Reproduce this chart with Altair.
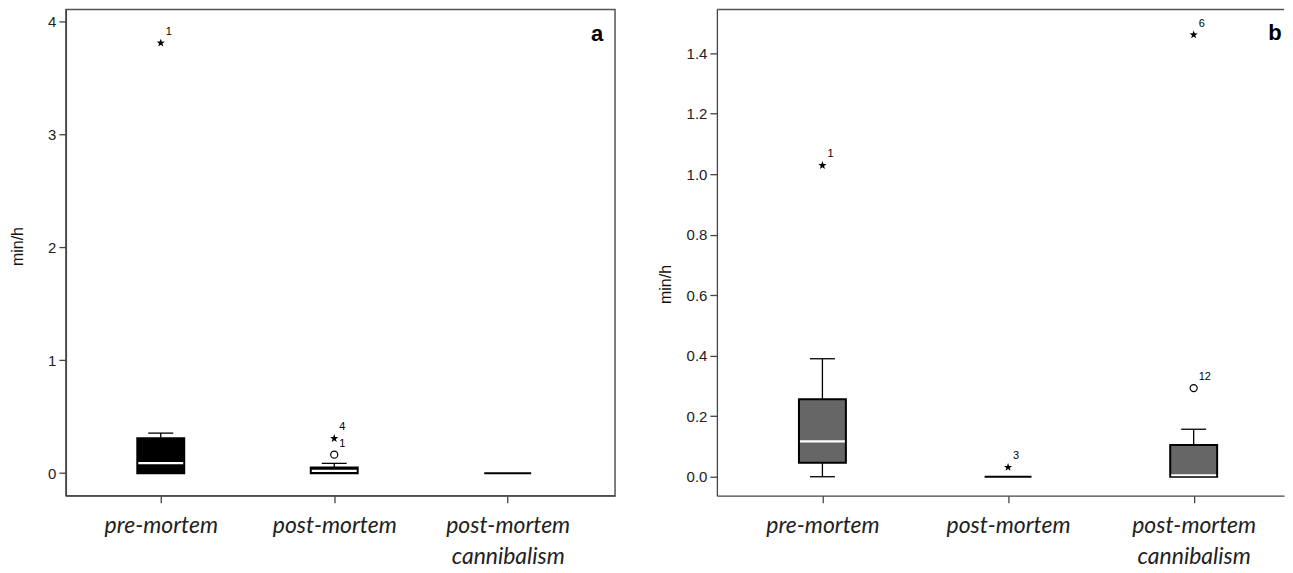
import altair as alt
import pandas as pd

# ---------------- data ----------------
cats = ["pre-mortem", "post-mortem", "post-mortem|cannibalism"]
pos = [1, 2, 3]

# panel a (box statistics, min/h)
a_lo = [0.0, 0.0, 0.0]
a_q1 = [0.0, 0.0, 0.0]
a_med = [0.09, 0.02, 0.0]
a_q3 = [0.31, 0.05, 0.0]
a_hi = [0.355, 0.087, 0.0]

a_out_pos = [1, 2, 2]
a_out_val = [3.81, 0.308, 0.164]
a_out_kind = ["extreme", "extreme", "outlier"]
a_out_lab = ["1", "4", "1"]

# panel b
b_lo = [0.0, 0.0, 0.0]
b_q1 = [0.046, 0.0, 0.0]
b_med = [0.117, 0.0, 0.005]
b_q3 = [0.256, 0.0, 0.105]
b_hi = [0.39, 0.0, 0.157]

b_out_pos = [1, 2, 3, 3]
b_out_val = [1.029, 0.031, 1.461, 0.293]
b_out_kind = ["extreme", "extreme", "extreme", "outlier"]
b_out_lab = ["1", "3", "6", "12"]

a_yticks = [0, 1, 2, 3, 4]
b_yticks = [0.0, 0.2, 0.4, 0.6, 0.8, 1.0, 1.2, 1.4]

STAR = ("M0,-1L0.235,-0.324L0.951,-0.309L0.38,0.124L0.588,0.809L0,0.4"
        "L-0.588,0.809L-0.38,0.124L-0.951,-0.309L-0.235,-0.324Z")

label_expr = ("split([" + ",".join("'" + c + "'" for c in cats) +
              "][datum.value - 1], '|')")


def panel(lo, q1, med, q3, hi, opos, oval, okind, olab, xdom, ydom,
          yvals, yfmt, w, h, fill, letter, lx, ly, tx, ty, open_right):
    box = pd.DataFrame({"pos": pos, "lo": lo, "q1": q1, "med": med,
                        "q3": q3, "hi": hi})
    out = pd.DataFrame({"pos": opos, "val": oval, "kind": okind,
                        "lab": olab})
    let = pd.DataFrame({"t": [letter]})

    xaxis = alt.Axis(values=pos, labelExpr=label_expr, title=None,
                     grid=False, tickSize=7, labelPadding=12,
                     labelFont="Lato", labelFontStyle="italic",
                     labelFontSize=23, labelLineHeight=31,
                     labelColor="#222", labelAngle=0)
    yaxis = alt.Axis(values=yvals, format=yfmt, title="min/h", grid=False,
                     tickSize=7, labelPadding=3, labelFont="Liberation Sans",
                     labelFontSize=15, labelColor="#222",
                     titleFont="Liberation Sans", titleFontSize=16,
                     titleFontWeight="normal", titleColor="#111",
                     titleX=tx, titleY=ty, titleBaseline="middle",
                     titleAngle=270)
    xs = alt.Scale(domain=xdom, nice=False, zero=False)
    ys = alt.Scale(domain=ydom, nice=False, zero=False)

    def X():
        return alt.X("pos:Q", scale=xs, axis=xaxis)

    def Y(f):
        return alt.Y(f + ":Q", scale=ys, axis=yaxis)

    whisk = alt.Chart(box).mark_rule(color="black", strokeWidth=1.3).encode(
        x=X(), y=Y("lo"), y2="hi:Q")
    cap_hi = alt.Chart(box).transform_filter("datum.hi > datum.q3").mark_tick(
        orient="horizontal", size=25, thickness=1.3, color="black",
        opacity=1).encode(x=X(), y=Y("hi"))
    cap_lo = alt.Chart(box).transform_filter("datum.lo < datum.q1").mark_tick(
        orient="horizontal", size=25, thickness=1.3, color="black",
        opacity=1).encode(x=X(), y=Y("lo"))
    boxes = alt.Chart(box).mark_bar(size=47, fill=fill, stroke="black",
                                    strokeWidth=2, orient="vertical",
                                    opacity=1).encode(
        x=X(), y=Y("q1"), y2="q3:Q")
    meds = alt.Chart(box).transform_filter("datum.q3 > datum.q1").mark_tick(
        orient="horizontal", size=45, thickness=2.2, color="white",
        opacity=1).encode(x=X(), y=Y("med"))
    stars = alt.Chart(out).transform_filter("datum.kind == 'extreme'").mark_point(
        shape=STAR, filled=True, color="black", size=75, opacity=1).encode(
        x=X(), y=Y("val"))
    circs = alt.Chart(out).transform_filter("datum.kind == 'outlier'").mark_point(
        shape="circle", filled=False, color="black", size=50,
        strokeWidth=1.2, opacity=1).encode(x=X(), y=Y("val"))
    labs = alt.Chart(out).mark_text(align="left", dx=5, dy=-11, fontSize=11,
                                    font="Liberation Sans", color="black").encode(
        x=X(), y=Y("val"), text="lab:N")
    letr = alt.Chart(let).mark_text(fontSize=22, fontWeight="bold",
                                    font="Liberation Sans", color="black").encode(
        x=alt.value(lx), y=alt.value(ly), text="t:N")

    layers = [whisk, cap_hi, cap_lo, boxes, meds, stars, circs, labs, letr]
    if open_right:
        top = alt.Chart(let).mark_rule(color="#555", strokeWidth=1.5).encode(
            x=alt.value(0), x2=alt.value(w), y=alt.value(0))
        layers.append(top)
        return alt.layer(*layers).properties(
            width=w, height=h, view=alt.ViewBackground(stroke=None))
    return alt.layer(*layers).properties(width=w, height=h)


pa = panel(a_lo, a_q1, a_med, a_q3, a_hi, a_out_pos, a_out_val, a_out_kind,
           a_out_lab, [0.482, 3.59], [-0.199, 4.107], a_yticks, "d",
           550, 487, "black", "a", 532, 25, -48, 237, False)
pb = panel(b_lo, b_q1, b_med, b_q3, b_hi, b_out_pos, b_out_val, b_out_kind,
           b_out_lab, [0.4584, 3.4597], [-0.0626, 1.5446], b_yticks, ".1f",
           568, 487, "#666666", "b", 559, 24, -51, 275, True)

chart = alt.hconcat(pa, pb, spacing=42).properties(
    padding={"left": 1, "top": 0, "right": 0, "bottom": 0}
).configure_view(stroke="#555", strokeWidth=1.5).configure_axis(
    domainColor="#444", domainWidth=1.3, tickColor="#444", tickWidth=1.3)

chart.save("out.html", embed_options={"renderer": "svg", "actions": False})
